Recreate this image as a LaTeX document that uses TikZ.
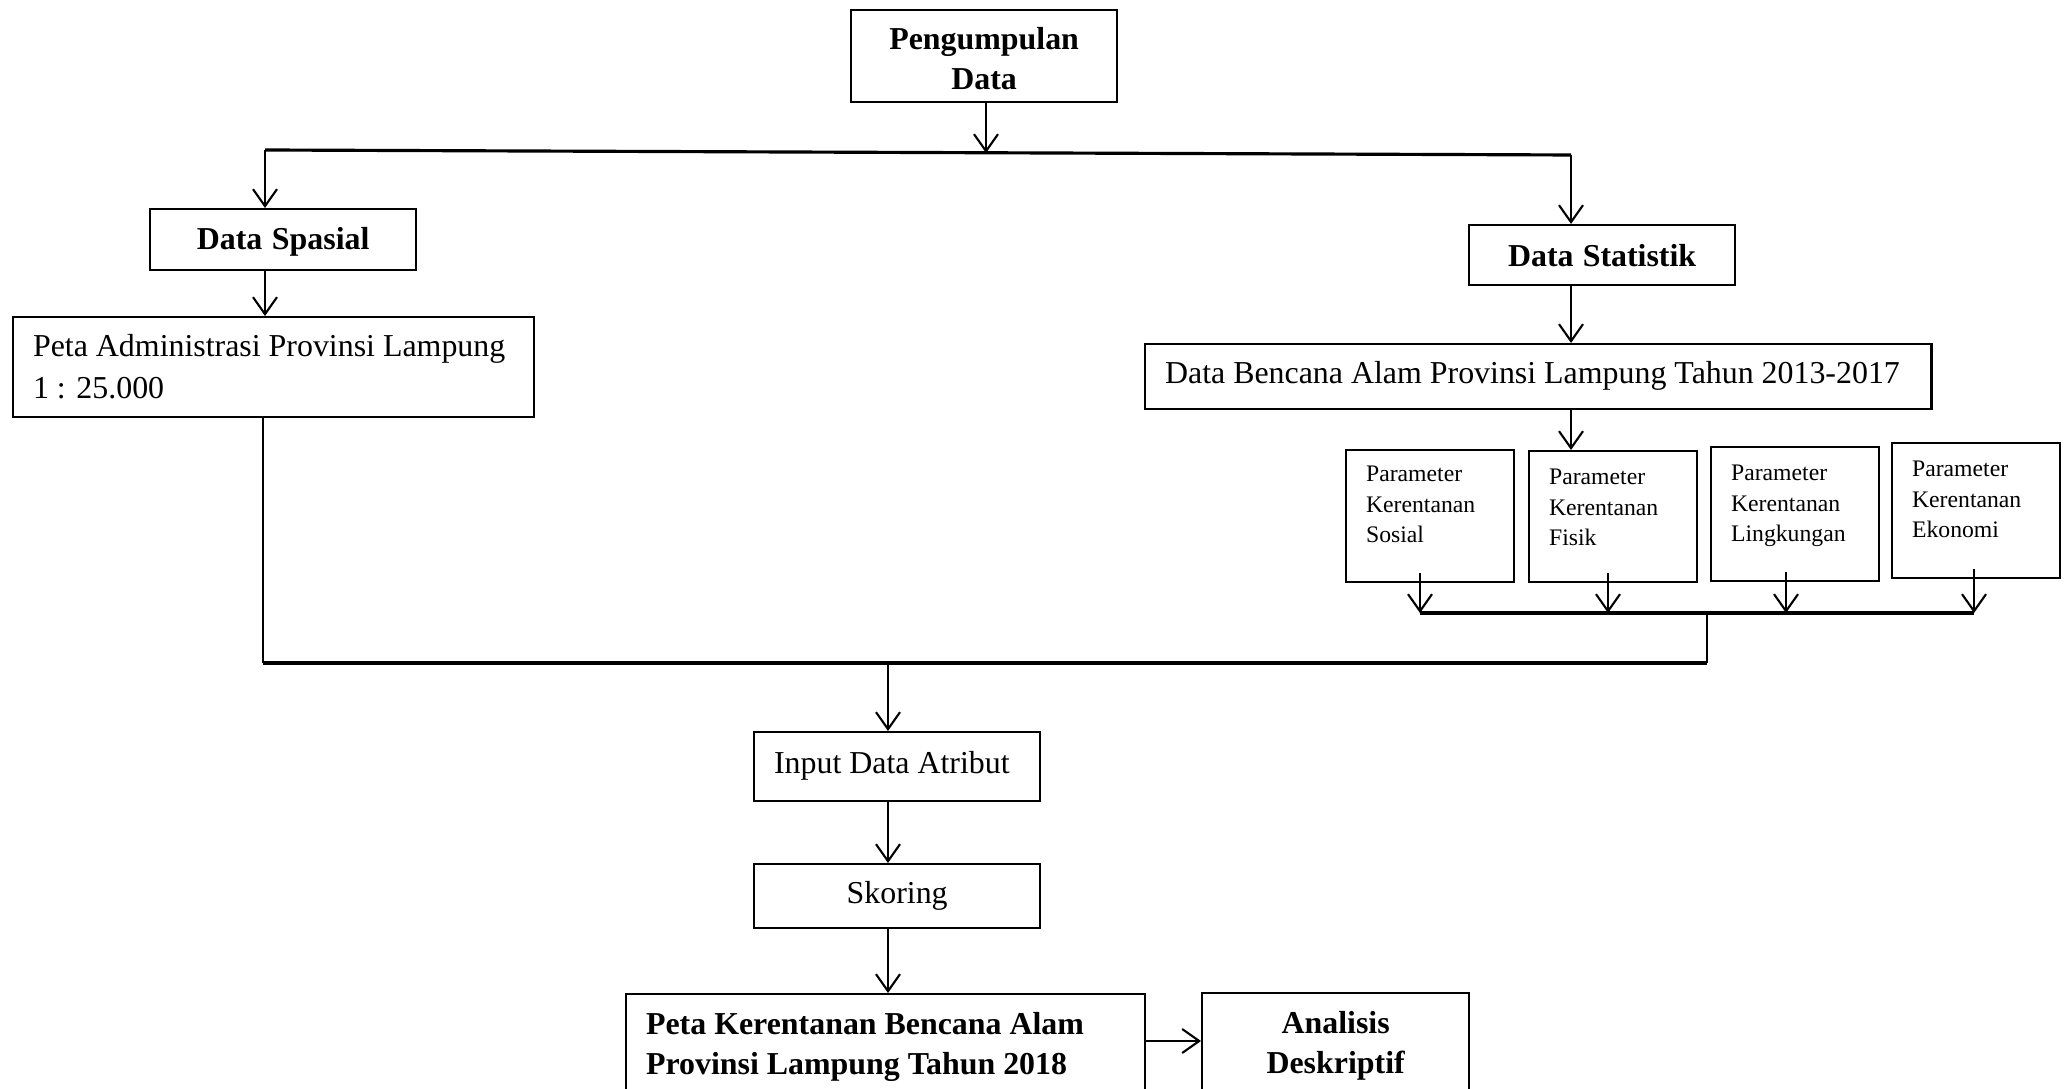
\documentclass[tikz,border=0pt]{standalone}
\usepackage{fontspec}
\setmainfont{Liberation Serif}
\usetikzlibrary{arrows.meta}
\newcommand{\isi}{\fontsize{9.07}{12.2}\selectfont}
\newcommand{\tebal}{\fontsize{9.07}{11.6}\selectfont\bfseries}
\newcommand{\kecil}{\fontsize{6.74}{8.8}\selectfont}
\begin{document}
\begin{tikzpicture}
  [x=0.01cm,y=-0.01cm,line width=0.6pt,
   every node/.style={draw,rectangle,anchor=north west,inner xsep=0.2cm,inner ysep=0pt,font=\isi,align=left,
     execute at begin node={\spaceskip=0pt\xspaceskip=0pt\relax}},
   judul/.style={font=\tebal,align=center},
   param/.style={font=\kecil,text width=1.28cm,text height=0.33cm},
   bus/.style={line width=0.9pt},
   panah/.style={-{Straight Barb[length=0.17cm,width=0.24cm]}}]
  \useasboundingbox (0,0) rectangle (2064,1089);

  \node[judul,text width=2.26cm,text height=0.39cm,text depth=0.53cm] (pengumpulan) at (850,9) {Pengumpulan\\Data};
  \node[judul,text width=2.26cm,text height=0.40cm,text depth=0.21cm] (spasial) at (149,208) {Data Spasial};
  \node[text width=4.81cm,text height=0.39cm,text depth=0.61cm] (petaadmin) at (12,316) {Peta Administrasi Provinsi Lampung\\1 : 25.000};
  \node[judul,text width=2.26cm,text height=0.41cm,text depth=0.19cm] (statistik) at (1468,224) {Data Statistik};
  \node[text width=7.46cm,text height=0.39cm,text depth=0.26cm] (bencana) at (1144,343) {Data Bencana Alam Provinsi Lampung Tahun 2013-2017};
  \node[param,text height=0.31cm,text depth=1.01cm] (sosial) at (1345,449) {Parameter\\Kerentanan\\Sosial};
  \node[param,text depth=0.98cm] (fisik) at (1528,450) {Parameter\\Kerentanan\\Fisik};
  \node[param,text depth=1.01cm] (lingkungan) at (1710,446) {Parameter\\Kerentanan\\Lingkungan};
  \node[param,text depth=1.02cm] (ekonomi) at (1891,442) {Parameter\\Kerentanan\\Ekonomi};
  \node[text width=2.46cm,text height=0.41cm,text depth=0.28cm] (input) at (753,731) {Input Data Atribut};
  \node[align=center,text width=2.46cm,text height=0.39cm,text depth=0.25cm] (skoring) at (753,863) {Skoring};
  \node[font=\tebal,text width=4.79cm,text height=0.40cm,text depth=0.80cm] (kerentanan) at (625,993) {Peta Kerentanan Bencana Alam\\Provinsi Lampung Tahun 2018};
  \node[judul,text width=2.27cm,text height=0.40cm,text depth=0.80cm] (analisis) at (1201,992) {Analisis\\Deskriptif};

  \coordinate (atasK) at (265,150);
  \coordinate (atasT) at (986,153);
  \coordinate (atasN) at (1571,155);
  \coordinate (parK) at (1420,613);
  \coordinate (parF) at (1608,613);
  \coordinate (parL) at (1786,613);
  \coordinate (parE) at (1974,613);
  \coordinate (parT) at (1707,613);
  \coordinate (bawahK) at (263,663);
  \coordinate (bawahN) at (1707,663);
  \coordinate (masuk) at (888,663);
  \coordinate (hasil) at (1172,1041);

  \path[draw]
    (pengumpulan.south -| atasT) edge[panah] (atasT)
    (atasK) edge[bus] (atasN)
    (atasK) edge[panah] (spasial.north -| atasK)
    (spasial.south -| atasK) edge[panah] (petaadmin.north -| atasK)
    (atasN) edge[panah] (statistik.north -| atasN)
    (statistik.south -| atasN) edge[panah] (bencana.north -| atasN)
    (bencana.south -| atasN) edge[panah] (fisik.north -| atasN)
    (sosial.south -| parK) edge[panah,shorten <=-0.1cm] (parK)
    (fisik.south -| parF) edge[panah,shorten <=-0.1cm] (parF)
    (lingkungan.south -| parL) edge[panah,shorten <=-0.1cm] (parL)
    (ekonomi.south -| parE) edge[panah,shorten <=-0.1cm] (parE)
    (parK) edge[bus] (parE)
    (parT) edge (bawahN)
    (petaadmin.south -| bawahK) edge (bawahK)
    (bawahK) edge[bus] (bawahN)
    (masuk) edge[panah] (input.north -| masuk)
    (input.south -| masuk) edge[panah] (skoring.north -| masuk)
    (skoring.south -| masuk) edge[panah] (kerentanan.north -| masuk)
    (kerentanan.east |- hasil) edge[panah] (analisis.west |- hasil)
  ;
\end{tikzpicture}
\end{document}
